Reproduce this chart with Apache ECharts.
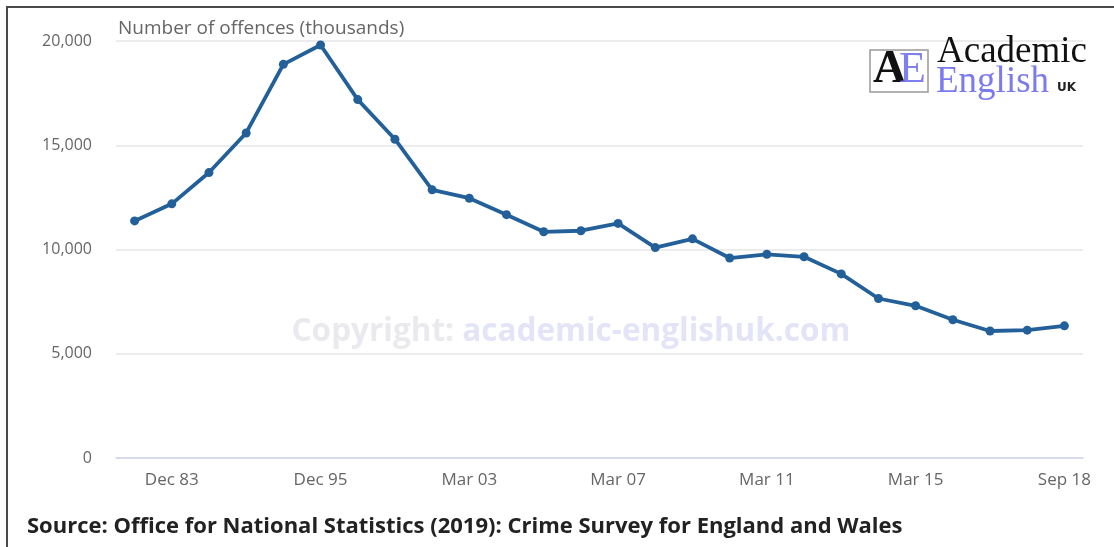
<!DOCTYPE html>
<html>
<head>
<meta charset="utf-8">
<script src="https://cdn.jsdelivr.net/npm/echarts@6/dist/echarts.min.js"></script>
<style>
  html, body { margin: 0; padding: 0; background: #fff; }
  #frame { position: absolute; left: 6px; top: 6px; width: 1120px; height: 560px; border-left: 2px solid #4a4a4a; border-top: 2px solid #4a4a4a; }
  #chart { position: absolute; left: 0; top: 0; width: 1114px; height: 547px; }
</style>
</head>
<body>
<div id="frame"></div>
<div id="chart"></div>
<script>
const categories = ["Dec 81","Dec 83","Dec 87","Dec 91","Dec 93","Dec 95","Dec 97","Dec 99",
  "Mar 02","Mar 03","Mar 04","Mar 05","Mar 06","Mar 07","Mar 08","Mar 09","Mar 10","Mar 11",
  "Mar 12","Mar 13","Mar 14","Mar 15","Mar 16","Mar 17","Mar 18","Sep 18"];
const offences = [11370,12190,13690,15590,18880,19810,17190,15290,12860,12460,11670,10850,10900,
  11250,10090,10510,9590,9770,9650,8830,7650,7300,6630,6090,6130,6340];
const yTicks = [0, 5000, 10000, 15000, 20000];
const yAxisTitle = "Number of offences (thousands)";
const sourceText = "Source: Office for National Statistics (2019): Crime Survey for England and Wales";

const chart = echarts.init(document.getElementById('chart'));
const showIdx = (i) => i % 4 === 1;
chart.setOption({
  backgroundColor: 'transparent',
  animation: false,
  grid: { left: 116, right: 1114 - 1083, top: 41, bottom: 547 - 458, containLabel: false },
  xAxis: {
    type: 'category',
    data: categories,
    boundaryGap: true,
    axisLine: { lineStyle: { color: '#ccd6eb', width: 1.5 } },
    axisTick: { alignWithLabel: true, interval: showIdx, length: 10, lineStyle: { color: '#ccd6eb', width: 1.5 } },
    axisLabel: { interval: showIdx, color: '#666', fontFamily: 'Open Sans', fontSize: 17, margin: 14 },
    splitLine: { show: false }
  },
  yAxis: {
    type: 'value',
    min: yTicks[0],
    max: yTicks[yTicks.length - 1],
    interval: 5000,
    axisLine: { show: false },
    axisTick: { show: false },
    axisLabel: { color: '#666', fontFamily: 'Open Sans', fontSize: 16, margin: 24,
      formatter: (v) => v.toLocaleString('en-GB') },
    splitLine: { lineStyle: { color: '#e6e6e6', width: 1.5 } }
  },
  series: [{
    type: 'line',
    data: offences,
    symbol: 'circle',
    symbolSize: 9,
    lineStyle: { color: '#23609a', width: 3.8 },
    itemStyle: { color: '#23609a' }
  }],
  graphic: [
    { type: 'text', x: 118, y: 29, z: 10,
      style: { text: yAxisTitle, fill: '#666', font: '19px "Open Sans"', verticalAlign: 'middle' } },
    { type: 'text', x: 27, y: 527, z: 10,
      style: { text: sourceText, fill: '#222', font: 'bold 22px "Open Sans"', verticalAlign: 'middle' } },
    { type: 'text', x: 571, y: 332, z: 1,
      style: { text: '{a|Copyright: }{b|academic-englishuk.com}', align: 'center', verticalAlign: 'middle',
        rich: {
          a: { fill: '#eaeaee', font: 'bold 31.5px "Open Sans"' },
          b: { fill: '#e4e4f8', font: 'bold 31.5px "Open Sans"' }
        } } },
    { type: 'rect', shape: { x: 870, y: 50, width: 58, height: 42 }, z: 10,
      style: { fill: '#fff', stroke: '#999', lineWidth: 1.5 } },
    { type: 'text', x: 873, y: 93, z: 11,
      style: { text: 'A', fill: '#111', font: 'bold 46px "Liberation Serif"', verticalAlign: 'bottom' } },
    { type: 'text', x: 899, y: 92, z: 12,
      style: { text: 'E', fill: '#7878ee', font: '44px "Liberation Serif"', verticalAlign: 'bottom', opacity: 0.95 } },
    { type: 'text', x: 937, y: 71, z: 10,
      style: { text: 'Academic', fill: '#111', font: '37px "Liberation Serif"', verticalAlign: 'bottom' } },
    { type: 'text', x: 936, y: 101, z: 10,
      style: { text: 'English', fill: '#7b7bef', font: '37px "Liberation Serif"', verticalAlign: 'bottom' } },
    { type: 'text', x: 1057, y: 94, z: 10,
      style: { text: 'UK', fill: '#222', font: 'bold 12px "DejaVu Sans"', verticalAlign: 'bottom' } }
  ]
});
</script>
</body>
</html>
